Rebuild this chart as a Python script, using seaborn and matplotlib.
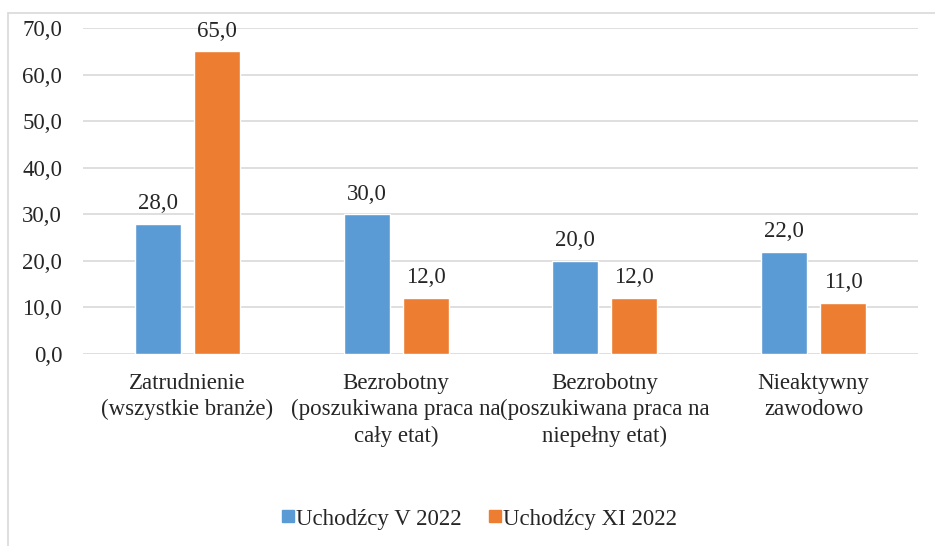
import matplotlib
matplotlib.use("Agg")
import matplotlib.pyplot as plt
import seaborn as sns
import pandas as pd
from matplotlib.lines import Line2D

# data
categories = ["Zatrudnienie\n(wszystkie branże)",
              "Bezrobotny\n(poszukiwana praca na\ncały etat)",
              "Bezrobotny\n(poszukiwana praca na\nniepełny etat)",
              "Nieaktywny\nzawodowo"]
series_names = ["Uchodźcy V 2022", "Uchodźcy XI 2022"]
values_v = [28.0, 30.0, 20.0, 22.0]
values_xi = [65.0, 12.0, 12.0, 11.0]
colors = ["#5B9BD5", "#ED7D31"]

df = pd.DataFrame({
    "cat": categories * 2,
    "series": [series_names[0]] * 4 + [series_names[1]] * 4,
    "val": values_v + values_xi,
})

sns.set_theme(style="white")
plt.rcParams["font.family"] = ["Liberation Serif", "DejaVu Serif"]
fs = 16.5

f = plt.figure(figsize=(9.35, 5.46), dpi=100)
ax = f.add_axes([83 / 935, 1 - 354 / 546, 835 / 935, 326 / 546])

sns.barplot(data=df, x="cat", y="val", hue="series", palette=colors,
            width=0.565, gap=0.22, ax=ax, legend=False, saturation=1)

for c in ax.containers:
    ax.bar_label(c, labels=[f"{v:.1f}".replace(".", ",") for v in c.datavalues],
                 padding=7, fontsize=fs)

ax.set_ylim(0, 70)
ax.set_xlim(-0.5, 3.5)
ax.set_yticks(range(0, 71, 10))
ax.set_yticklabels([f"{v:.1f}".replace(".", ",") for v in range(0, 71, 10)], fontsize=fs)
ax.set_xticklabels(categories, fontsize=fs, linespacing=1.3)
ax.tick_params(axis="x", length=0, pad=14)
ax.tick_params(axis="y", length=0, pad=15)
ax.set(xlabel="", ylabel="")
ax.yaxis.grid(True, color="#d9d9d9", linewidth=1.2)
ax.set_axisbelow(True)
for s in ax.spines.values():
    s.set_visible(False)

# legend
handles = [Line2D([], [], marker="s", linestyle="", markersize=8,
                  markerfacecolor=col, markeredgecolor=col) for col in colors]
f.legend(handles, series_names, loc="center", bbox_to_anchor=(0.512, 1 - 519 / 546),
         ncol=2, frameon=False, fontsize=fs, handletextpad=0.0,
         columnspacing=1.1, handlelength=0.7)

# outer frame (top and left)
f.add_artist(Line2D([8 / 935, 1], [1 - 13 / 546, 1 - 13 / 546], transform=f.transFigure,
                    color="#d9d9d9", linewidth=1.2))
f.add_artist(Line2D([8 / 935, 8 / 935], [0, 1 - 13 / 546], transform=f.transFigure,
                    color="#d9d9d9", linewidth=1.2))

f.savefig("out.png", dpi=100)
